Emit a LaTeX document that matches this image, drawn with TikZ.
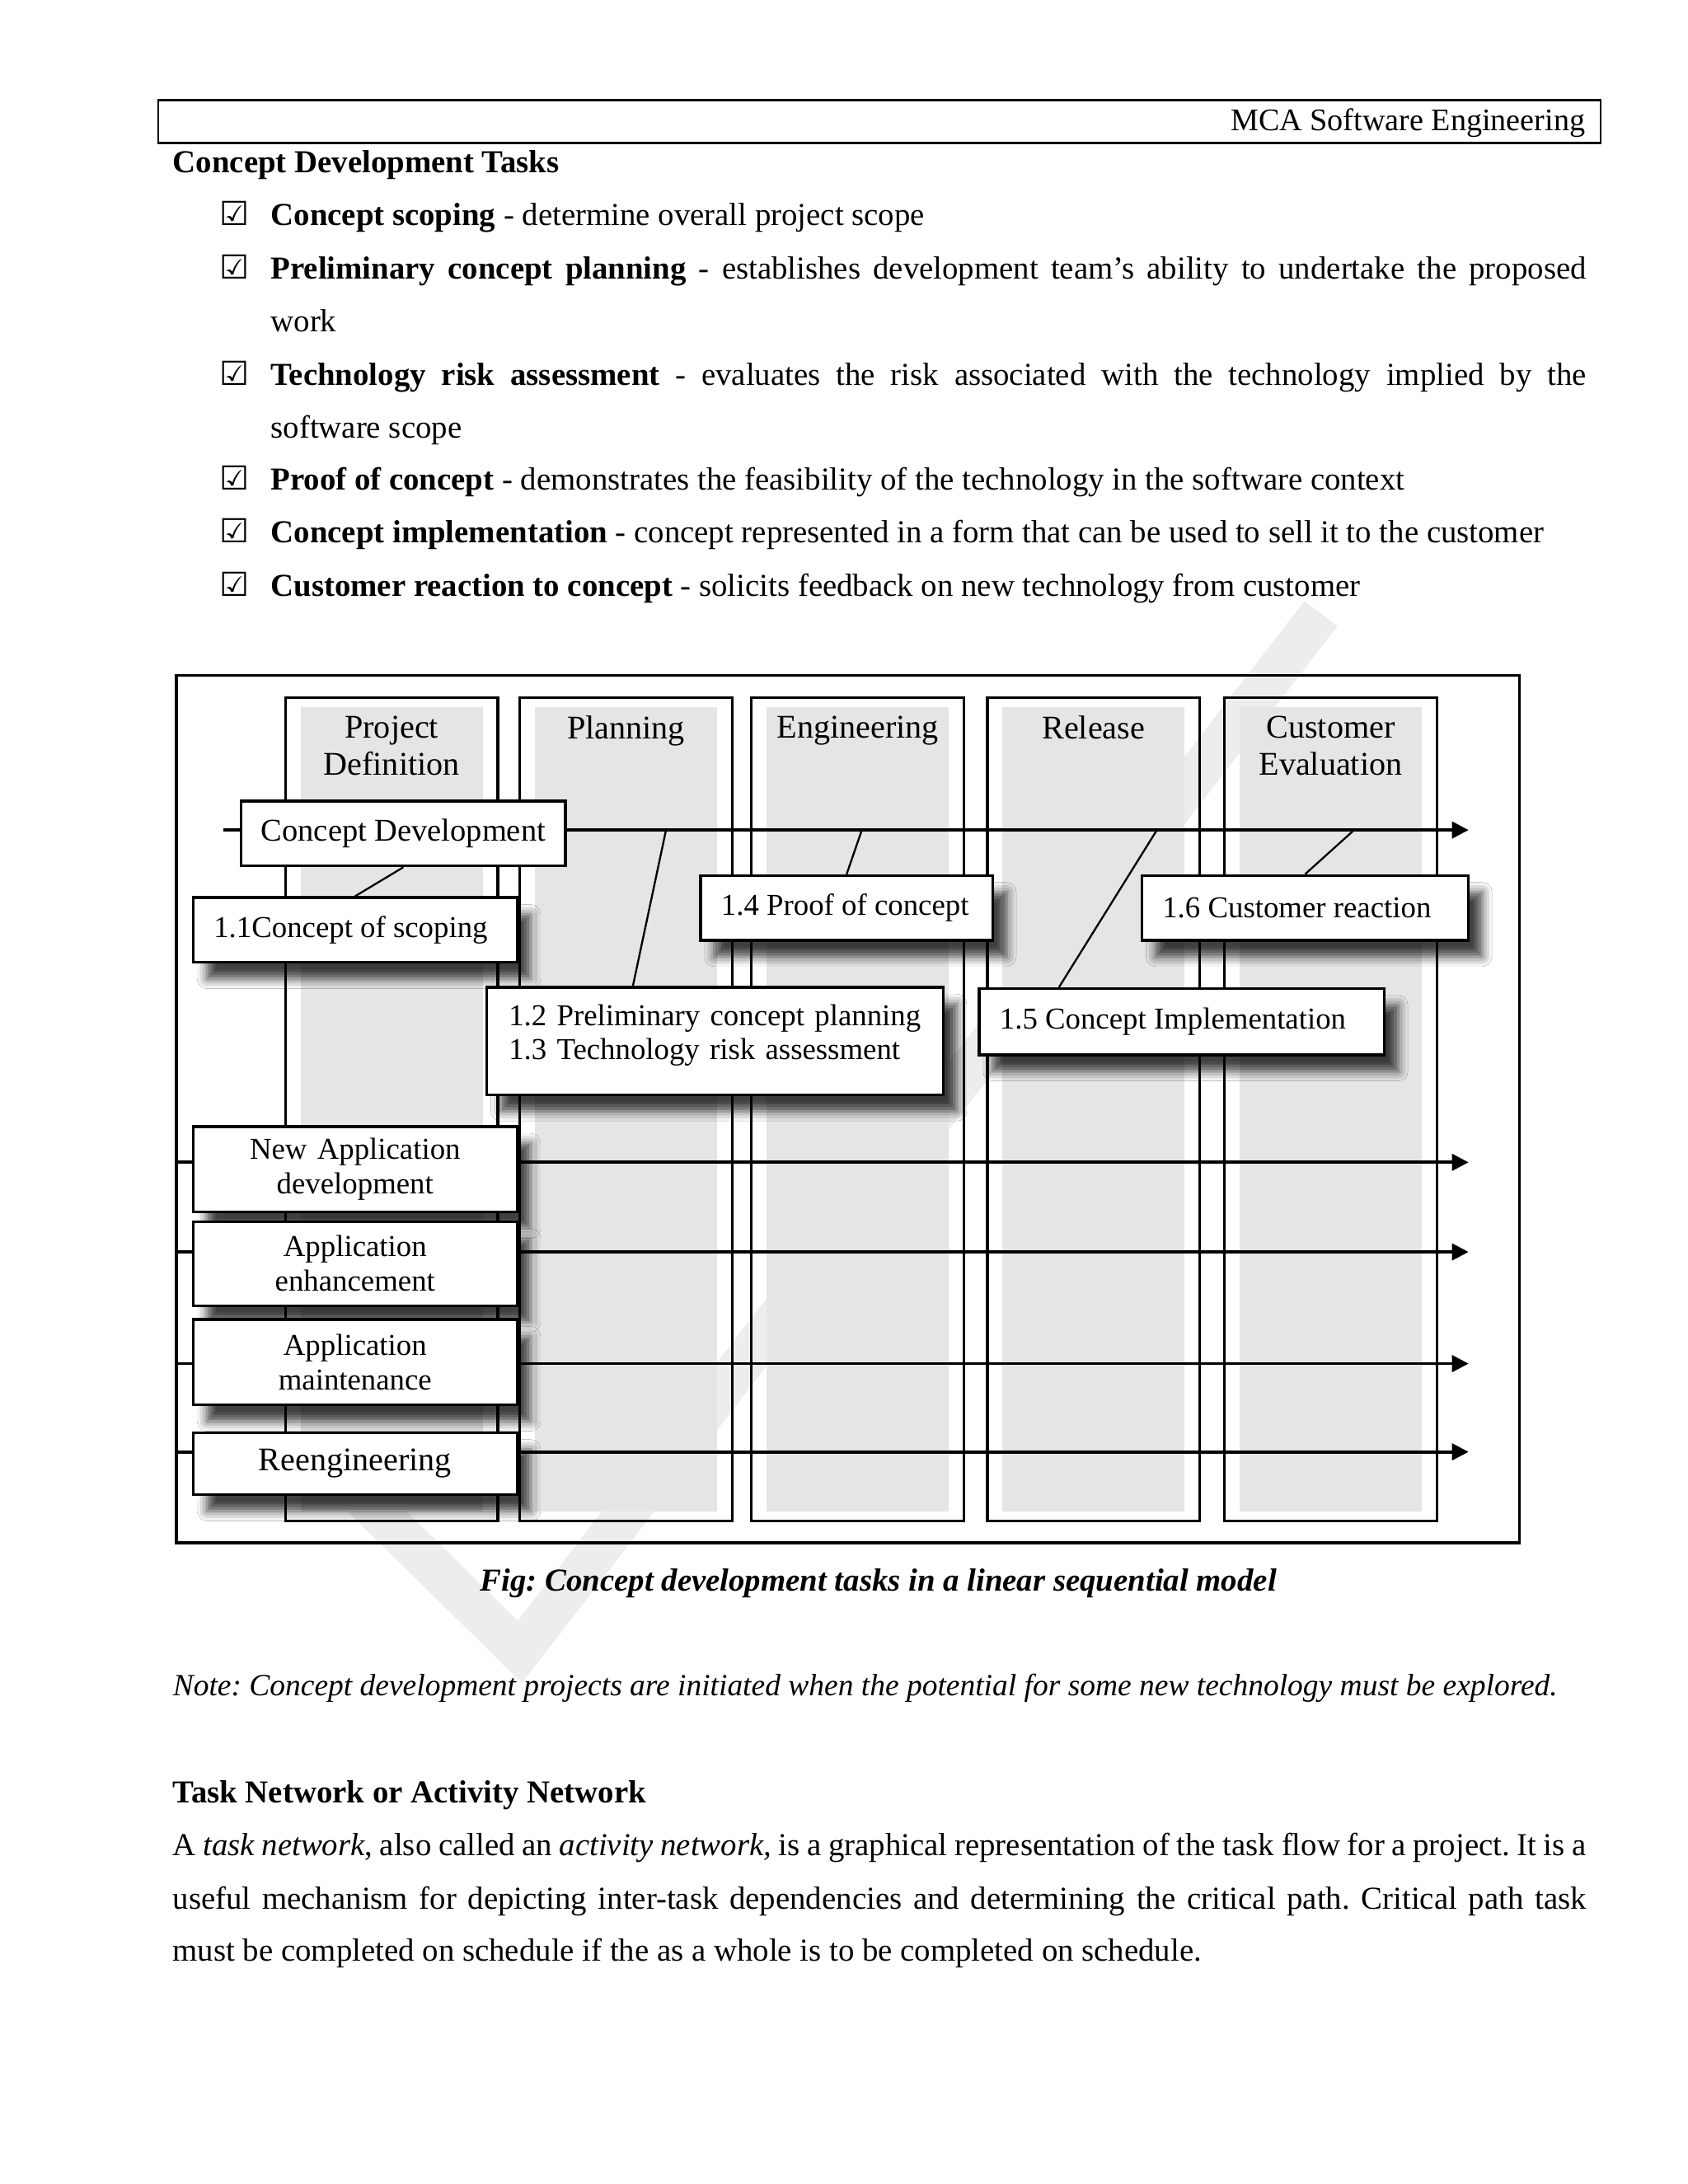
\documentclass[tikz,border=0pt]{standalone}
\usepackage{fontspec}
\setmainfont{Liberation Serif}
\newfontfamily\symfont{DejaVu Sans}
\usetikzlibrary{arrows.meta,shadows.blur}

\newcommand\bodysize{\fontsize{11.6}{14}\selectfont}
\newcommand\boxsize{\fontsize{11}{12.5}\selectfont}

\tikzset{
  body/.style={anchor=base west, inner sep=0pt, font=\bodysize},
  chk/.style={anchor=base west, inner sep=0pt, font=\symfont\fontsize{12}{13}\selectfont},
  frame/.style={draw, line width=1pt, anchor=north west, inner sep=0pt,
    minimum width=487pt, minimum height=314.5pt},
  phase/.style={draw, line width=1pt, anchor=north west, inner sep=0pt,
    minimum width=77pt, minimum height=298.5pt},
  lane/.style={fill=black!10},
  head/.style={anchor=north, align=center, inner sep=0pt, font=\fontsize{12}{13.5}\selectfont},
  plain/.style={draw, fill=white, line width=1pt, anchor=north west,
    inner xsep=7.5pt, inner ysep=0pt, font=\boxsize},
  task/.style={plain, minimum height=23.5pt,
    blur shadow={shadow xshift=5pt, shadow yshift=-6pt, shadow blur radius=3.5pt, shadow opacity=75}},
  kind/.style={task, align=center, text width=102.5pt},
  flow/.style={line width=1.1pt, -{Triangle[length=6pt,width=6pt]}},
  link/.style={line width=0.7pt},
  wmark/.style={line width=15pt, draw=black!7, line join=miter},
}

\begin{document}
\frenchspacing
\begin{tikzpicture}[x=0.5pt, y=-0.5pt]
  \fill[white] (0,0) rectangle (1224,1584);
  \useasboundingbox (0,0) rectangle (1224,1584);

  % faint watermark behind the figure
  \draw[wmark] (262,1085) -- (377,1198) -- (958,445);

  % page heading
  \node[draw, line width=0.8pt, anchor=north west, inner sep=0pt,
    minimum width=523pt, minimum height=15.5pt] (hdr) at (114,72) {};
  \node[anchor=base east, inner sep=0pt, font=\fontsize{11.4}{13}\selectfont] (hdr-t) at (1150,95) {MCA Software Engineering};

  % task list
  \node[body, font=\bodysize\bfseries] (title) at (125,125.5) {Concept Development Tasks};
  \foreach \y/\n in {163.5/c1, 202.5/c2, 279.5/c3, 355.5/c4, 393.5/c5, 432.5/c6}
    \node[chk] (\n) at (159,\y) {☑};
  \node[body] (i1) at (196,163.5) {\textbf{Concept scoping} - determine overall project scope};
  \node[body] (i2) at (196,202.5) {\makebox[477pt][s]{\textbf{Preliminary concept planning} - establishes development team's ability to undertake the proposed}};
  \node[body] (i2b) at (196,240.5) {work};
  \node[body] (i3) at (196,279.5) {\makebox[477pt][s]{\textbf{Technology risk assessment} - evaluates the risk associated with the technology implied by the}};
  \node[body] (i3b) at (196,317.5) {software scope};
  \node[body] (i4) at (196,355.5) {\textbf{Proof of concept} - demonstrates the feasibility of the technology in the software context};
  \node[body] (i5) at (196,393.5) {\textbf{Concept implementation} - concept represented in a form that can be used to sell it to the customer};
  \node[body] (i6) at (196,432.5) {\textbf{Customer reaction to concept} - solicits feedback on new technology from customer};

  % the figure: frame and phase columns
  \node[frame] (fig) at (127,489) {};
  \foreach \x/\n/\t in {206/pd/{Project\\Definition}, 376/pl/Planning, 544/en/Engineering,
                        715/rl/Release, 887/ce/{Customer\\Evaluation}} {
    \node[phase] (\n) at (\x,505) {};
    \fill[lane] ([xshift=6pt,yshift=-4pt]\n.north west) rectangle ([xshift=-6pt,yshift=4pt]\n.south east);
    \node[head] (\n-t) at ([yshift=-7pt]\n.north) {\t};
  }

  % project lines
  \coordinate (cd-in) at (162,602);
  \coordinate (cd-out) at (1065,602);
  \draw[flow] (cd-in) -- (cd-out);
  \foreach \y/\n in {843/nad, 908/enh, 989/mnt, 1053/reg} {
    \coordinate (\n-in) at (127,\y);
    \coordinate (\n-out) at (1065,\y);
    \draw[flow] (\n-in) -- (\n-out);
  }

  % taps on the concept line
  \coordinate (m12) at (483,602);
  \coordinate (m14) at (625,602);
  \coordinate (m15) at (839,602);
  \coordinate (m16) at (982,602);

  \node[plain, minimum height=23.5pt, font=\fontsize{11.5}{13}\selectfont] (cdev) at (174,580)
    {\makebox[102.5pt][c]{Concept Development}};
  \node[task] (t11) at (139,650) {\makebox[102.5pt][l]{1.1Concept of scoping}};
  \node[task, align=left, text width=149.5pt, minimum height=39pt, inner xsep=8pt] (t12) at (352,715)
    {1.2 Preliminary concept planning\\1.3 Technology risk assessment\\[-6pt]\mbox{}};
  \node[task] (t14) at (507,634) {\makebox[91pt][l]{1.4 Proof of concept}};
  \node[task, minimum height=24pt] (t15) at (709,716) {\makebox[132pt][l]{1.5 Concept Implementation}};
  \node[task] (t16) at (827,634) {\makebox[103.5pt][l]{1.6 Customer reaction}};

  \draw[link] (cdev.south) -- (t11.north);
  \draw[link] (m12) -- ([xshift=53.5pt]t12.north west);
  \draw[link] (m14) -- (t14.north);
  \draw[link] (m15) -- ([xshift=29.5pt]t15.north west);
  \draw[link] (m16) -- (t16.north);

  % project kinds
  \node[kind, minimum height=31pt] (nad) at (139,816) {New Application\\development};
  \node[kind, minimum height=30.5pt] (enh) at (139,885) {Application\\enhancement};
  \node[kind, minimum height=31pt] (mnt) at (139,956) {Application\\maintenance};
  \node[kind, minimum height=22.5pt, font=\fontsize{12}{13.5}\selectfont] (reg) at (139,1038) {Reengineering};

  % caption and text below
  \node[anchor=base, inner sep=0pt, font=\bodysize\bfseries\itshape] (cap) at (637,1154)
    {Fig: Concept development tasks in a linear sequential model};
  \node[body, font=\fontsize{11.2}{14}\selectfont\itshape] (note) at (125,1230)
    {Note: Concept development projects are initiated when the potential for some new technology must be explored.};
  \node[body, font=\bodysize\bfseries] (tn) at (125,1307.5) {Task Network or Activity Network};
  \node[body] (p1) at (125,1345.5) {\makebox[512.5pt][s]{A \textit{task network}, also called an \textit{activity network,} is a graphical representation of the task flow for a project. It is a}};
  \node[body] (p2) at (125,1384.5) {\makebox[512.5pt][s]{useful mechanism for depicting inter-task dependencies and determining the critical path. Critical path task}};
  \node[body] (p3) at (125,1422.5) {must be completed on schedule if the as a whole is to be completed on schedule.};
\end{tikzpicture}
\end{document}
